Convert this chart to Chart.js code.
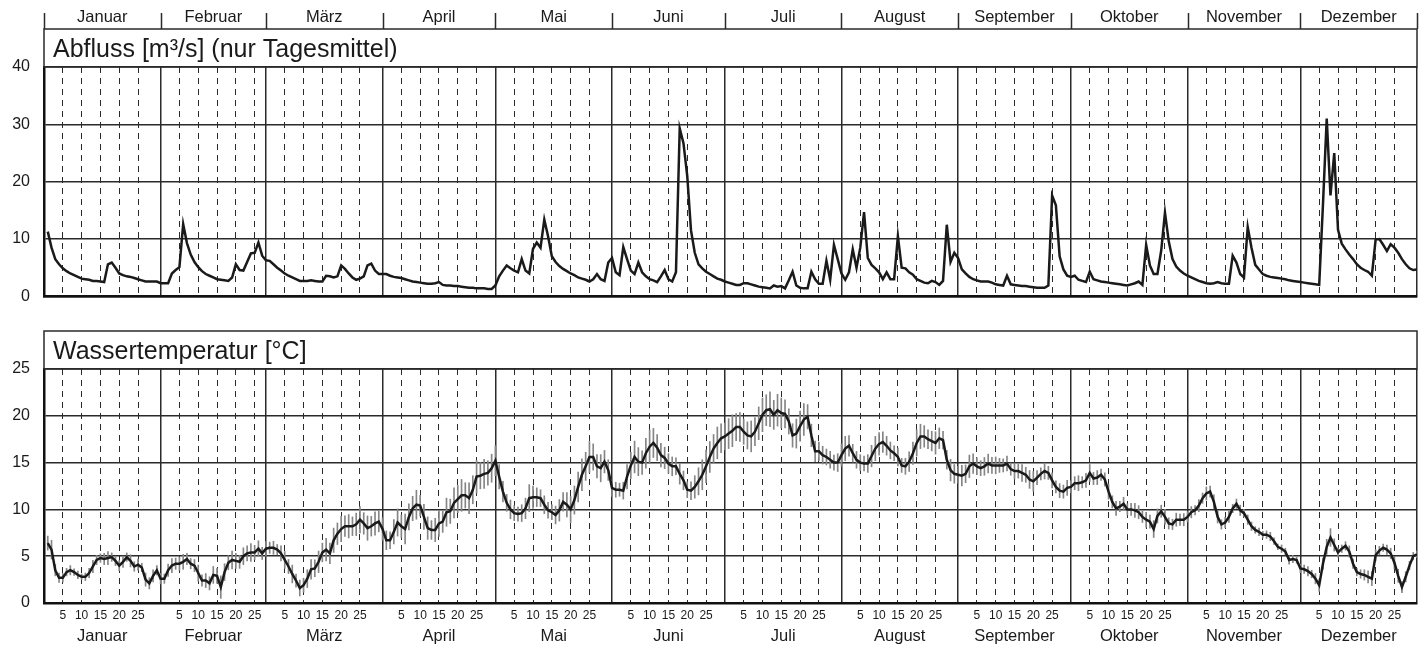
<!DOCTYPE html>
<html>
<head>
<meta charset="utf-8">
<script src="https://cdn.jsdelivr.net/npm/chart.js"></script>
<style>
body { margin: 0; background: #fff; width: 1427px; height: 651px; overflow: hidden; position: relative; }
canvas { position: absolute; left: 0; }
#abfluss { top: 0; }
#temperatur { top: 320px; }
</style>
</head>
<body>
<canvas id="abfluss" width="1427" height="320"></canvas>
<canvas id="temperatur" width="1427" height="331"></canvas>
<script>
const monate = ["Januar", "Februar", "März", "April", "Mai", "Juni", "Juli", "August", "September", "Oktober", "November", "Dezember"];
const monatsTage = [31, 28, 31, 30, 31, 30, 31, 31, 30, 31, 30, 31];
const tagMarken = [5, 10, 15, 20, 25];
const abflussTicks = [0, 10, 20, 30, 40];
const tempTicks = [0, 5, 10, 15, 20, 25];

// Abfluss, Tagesmittel m³/s
const abfluss = [
  11.3, 8.5, 6.5, 5.6, 4.9, 4.4, 4.0, 3.7, 3.4, 3.1, 3.0, 2.9, 2.7, 2.7, 2.6, 2.5, 5.6, 5.9, 5.0, 4.0, 3.7, 3.5, 3.4, 3.2, 3.0, 2.8, 2.6, 2.6, 2.6, 2.6, 2.3,
  2.3, 2.3, 4.0, 4.6, 5.1, 12.6, 9.3, 7.3, 6.0, 5.1, 4.4, 3.9, 3.6, 3.3, 3.0, 2.9, 2.8, 2.7, 3.3, 5.6, 4.6, 4.5, 6.0, 7.5, 7.6, 9.4, 7.1, 6.3,
  6.2, 5.6, 5.0, 4.5, 4.0, 3.6, 3.3, 3.0, 2.7, 2.7, 2.7, 2.8, 2.7, 2.6, 2.6, 3.6, 3.5, 3.3, 3.5, 5.4, 4.8, 4.0, 3.3, 2.9, 3.1, 3.5, 5.4, 5.7, 4.5, 3.9, 3.9,
  3.9, 3.6, 3.4, 3.3, 3.2, 3.0, 2.8, 2.6, 2.5, 2.4, 2.3, 2.2, 2.2, 2.3, 2.5, 2.0, 1.9, 1.9, 1.8, 1.8, 1.7, 1.6, 1.5, 1.5, 1.4, 1.4, 1.4, 1.3, 1.3, 1.9,
  3.5, 4.5, 5.4, 4.9, 4.5, 4.2, 6.5, 4.5, 4.0, 8.3, 9.4, 8.5, 13.4, 10.5, 7.0, 6.0, 5.3, 4.8, 4.4, 4.0, 3.7, 3.3, 3.1, 2.9, 2.6, 3.0, 3.9, 3.0, 2.7, 5.9, 6.7,
  4.2, 3.7, 8.6, 6.5, 4.5, 3.9, 5.9, 4.2, 3.5, 3.0, 2.8, 2.5, 3.5, 4.6, 3.0, 2.6, 4.2, 29.3, 26.7, 21.0, 11.5, 7.6, 5.6, 4.9, 4.3, 3.9, 3.5, 3.1, 2.9, 2.6,
  2.4, 2.2, 2.0, 2.0, 2.3, 2.3, 2.1, 1.9, 1.7, 1.6, 1.5, 1.4, 1.9, 1.7, 1.8, 1.4, 2.8, 4.3, 1.9, 1.5, 1.4, 1.4, 4.3, 3.0, 2.2, 2.2, 6.2, 2.9, 9.0, 6.5, 4.0,
  2.9, 4.2, 8.2, 5.0, 8.5, 14.7, 6.7, 5.5, 4.9, 4.2, 3.0, 4.2, 3.0, 3.0, 10.5, 5.0, 4.9, 4.2, 3.8, 3.0, 2.7, 2.4, 2.3, 2.7, 2.5, 2.0, 2.7, 12.5, 6.0, 7.6, 6.7,
  4.7, 4.0, 3.4, 3.0, 2.8, 2.6, 2.6, 2.6, 2.4, 2.1, 2.0, 1.9, 3.6, 2.1, 2.0, 1.9, 1.8, 1.8, 1.7, 1.6, 1.5, 1.5, 1.5, 1.9, 17.6, 15.9, 7.0, 4.7, 3.6, 3.4,
  3.6, 2.9, 2.7, 2.5, 4.3, 3.0, 2.8, 2.6, 2.5, 2.4, 2.3, 2.2, 2.1, 2.0, 1.9, 2.1, 2.3, 2.6, 2.0, 9.0, 5.4, 3.9, 3.9, 8.0, 14.6, 9.6, 6.5, 5.2, 4.5, 4.0, 3.6,
  3.3, 3.0, 2.7, 2.5, 2.3, 2.2, 2.3, 2.5, 2.3, 2.2, 2.2, 7.1, 5.9, 3.9, 3.3, 12.1, 8.5, 5.5, 4.7, 3.9, 3.6, 3.4, 3.3, 3.2, 3.1, 3.0, 2.8, 2.7, 2.6, 2.5,
  2.4, 2.3, 2.2, 2.1, 2.0, 16.0, 31.0, 17.6, 25.0, 11.6, 9.2, 8.2, 7.3, 6.5, 5.6, 5.0, 4.6, 4.3, 3.6, 9.9, 10.0, 9.0, 7.9, 9.1, 8.5, 7.6, 6.5, 5.6, 4.9, 4.6, 4.7
];

// Wassertemperatur, Tagesmittel °C
const tempMittel = [
  6.4, 5.7, 3.5, 2.7, 2.7, 3.3, 3.5, 3.3, 3.0, 2.8, 2.8, 3.2, 3.9, 4.6, 4.8, 4.7, 4.8, 4.9, 4.5, 4.0, 4.4, 4.9, 4.5, 3.9, 4.1, 3.8, 2.5, 2.1, 2.9, 3.5, 2.6,
  2.6, 3.5, 4.0, 4.2, 4.2, 4.4, 4.7, 4.2, 4.0, 3.2, 2.4, 2.4, 2.1, 3.0, 2.9, 1.7, 3.3, 4.3, 4.6, 4.5, 4.4, 5.0, 5.3, 5.4, 5.4, 5.8, 5.3, 5.8,
  5.9, 5.9, 5.7, 5.3, 4.6, 3.9, 3.1, 2.4, 1.6, 1.9, 2.6, 3.6, 3.7, 4.4, 5.4, 5.7, 5.3, 6.7, 7.4, 7.9, 8.2, 8.2, 8.2, 8.4, 8.9, 8.5, 8.0, 8.2, 8.5, 8.7, 7.9,
  6.7, 6.7, 7.6, 8.6, 8.2, 7.9, 9.2, 10.1, 10.5, 10.4, 9.2, 8.0, 7.8, 7.8, 8.5, 8.7, 9.7, 9.8, 10.7, 11.1, 11.5, 11.5, 11.2, 12.1, 13.5, 13.6, 13.8, 13.9, 14.4, 15.2,
  13.5, 11.9, 10.7, 10.0, 9.6, 9.5, 9.6, 10.1, 11.2, 11.3, 11.3, 11.2, 10.5, 9.9, 9.7, 9.4, 9.9, 10.8, 10.5, 10.0, 11.0, 12.4, 13.7, 14.6, 15.6, 15.6, 14.6, 14.4, 15.1, 14.2, 12.3,
  12.1, 12.1, 12.0, 13.5, 14.7, 15.6, 15.1, 15.0, 16.0, 16.7, 17.1, 16.6, 15.8, 15.5, 14.9, 14.6, 14.6, 13.8, 13.1, 12.1, 12.0, 12.4, 13.0, 13.7, 14.6, 15.6, 16.5, 17.1, 17.6, 17.8,
  18.1, 18.4, 18.8, 18.8, 18.3, 17.9, 17.8, 18.3, 19.2, 20.1, 20.6, 20.7, 20.1, 20.6, 20.3, 20.2, 19.4, 17.9, 18.1, 18.9, 19.6, 19.9, 17.9, 16.2, 16.2, 15.8, 15.6, 15.3, 15.0, 15.0, 15.8,
  16.5, 16.8, 16.0, 15.3, 15.0, 14.9, 14.9, 15.7, 16.5, 17.0, 17.2, 16.8, 16.3, 16.0, 15.6, 14.7, 14.6, 15.1, 16.0, 17.1, 17.8, 17.8, 17.5, 17.3, 17.1, 17.6, 17.4, 15.3, 14.2, 13.8, 13.7,
  13.6, 13.8, 14.6, 14.9, 14.6, 14.4, 14.6, 14.9, 14.7, 14.7, 14.7, 14.7, 14.9, 14.3, 14.1, 14.1, 13.9, 13.7, 13.2, 13.0, 13.4, 13.8, 14.1, 13.9, 13.1, 12.4, 12.0, 11.9, 12.3, 12.4,
  12.8, 12.8, 12.9, 13.1, 13.9, 13.3, 13.4, 13.7, 13.2, 11.9, 10.8, 10.1, 10.3, 10.6, 10.0, 10.0, 9.9, 9.7, 9.2, 8.9, 8.7, 7.9, 9.3, 9.8, 9.2, 8.5, 8.4, 8.9, 8.9, 8.9, 9.2,
  9.7, 9.9, 10.4, 11.2, 11.7, 11.9, 10.8, 9.2, 8.4, 8.6, 9.2, 10.1, 10.6, 9.9, 9.6, 8.9, 8.2, 7.8, 7.6, 7.3, 7.3, 7.1, 6.6, 6.0, 5.8, 5.5, 4.6, 4.7, 4.6, 3.7,
  3.6, 3.4, 3.1, 2.6, 1.9, 4.2, 6.0, 7.0, 6.2, 5.4, 5.8, 6.1, 5.5, 4.2, 3.3, 3.1, 3.0, 2.8, 2.6, 5.1, 5.6, 5.9, 5.7, 5.3, 4.3, 2.9, 1.7, 2.8, 4.0, 5.0, 5.2
];

// Tagesspanne (max - min) °C
const tempSpanne = [
  1.5, 2.0, 1.2, 1.0, 0.9, 0.8, 1.0, 0.7, 0.8, 0.6, 0.8, 1.0, 1.3, 1.0, 0.9, 1.2, 1.4, 0.9, 1.0, 1.1, 1.2, 0.9, 1.3, 1.0, 1.2, 0.9, 1.4, 1.2, 1.3, 1.0, 1.1,
  1.0, 1.3, 1.5, 1.2, 1.4, 1.6, 1.2, 1.1, 1.3, 1.7, 1.2, 1.5, 1.4, 1.8, 1.6, 2.4, 1.8, 1.5, 1.9, 1.6, 1.4, 1.8, 1.6, 1.9, 1.5, 1.7, 1.3, 1.6,
  1.2, 1.4, 1.1, 1.6, 1.8, 1.5, 1.9, 1.4, 1.7, 1.5, 1.9, 2.1, 1.8, 2.3, 2.0, 2.4, 2.2, 2.6, 2.3, 2.7, 2.2, 2.5, 2.0, 2.4, 2.8, 2.3, 2.6, 2.1, 2.5, 2.2, 2.4,
  2.0, 1.8, 2.6, 2.9, 2.4, 3.2, 2.8, 2.6, 3.1, 2.2, 2.7, 2.4, 2.0, 2.5, 2.8, 2.3, 3.0, 2.6, 3.2, 2.9, 3.4, 2.7, 3.3, 3.0, 3.5, 2.8, 3.1, 2.6, 3.0, 3.2,
  2.6, 2.2, 1.8, 2.0, 1.6, 1.5, 1.8, 2.2, 2.9, 2.4, 2.0, 1.8, 1.9, 1.7, 1.6, 1.9, 2.3, 2.0, 2.6, 2.8, 3.0, 3.2, 3.4, 3.0, 3.3, 2.8, 2.5, 2.9, 2.4, 2.2, 1.8,
  1.6, 1.4, 1.8, 2.6, 2.8, 3.4, 3.0, 2.5, 3.2, 3.6, 3.1, 2.8, 2.5, 2.3, 2.1, 2.0, 1.8, 2.2, 2.0, 1.7, 1.9, 2.4, 2.9, 3.2, 3.5, 3.3, 3.0, 3.4, 3.1, 2.9,
  3.2, 3.4, 2.9, 3.1, 2.7, 2.9, 3.3, 3.0, 3.5, 3.6, 3.3, 3.7, 3.1, 3.4, 3.2, 3.0, 2.7, 2.5, 3.1, 3.2, 3.4, 2.6, 2.4, 2.2, 2.0, 1.9, 1.7, 1.8, 1.6, 1.9, 2.4,
  2.6, 2.2, 1.9, 1.8, 1.7, 1.6, 1.9, 2.3, 2.6, 2.4, 2.2, 2.0, 1.8, 1.6, 1.9, 1.5, 1.7, 2.1, 2.4, 2.8, 2.6, 2.3, 2.0, 2.1, 2.4, 2.2, 1.9, 2.0, 2.3, 2.0, 1.8,
  2.2, 1.9, 2.4, 2.1, 1.8, 1.6, 1.9, 2.0, 1.7, 1.8, 1.5, 1.4, 1.6, 1.3, 1.7, 1.5, 1.8, 1.6, 1.9, 2.1, 1.5, 1.3, 1.7, 1.4, 1.6, 1.3, 1.5, 1.4, 1.6, 1.3,
  1.4, 1.6, 1.2, 1.5, 1.8, 1.3, 1.5, 1.2, 1.4, 1.6, 1.3, 1.5, 1.1, 1.4, 1.2, 1.3, 1.5, 1.4, 1.2, 1.6, 1.4, 1.8, 1.5, 1.3, 1.6, 1.2, 1.1, 1.4, 1.2, 1.3, 1.1,
  1.2, 1.0, 1.3, 1.1, 1.4, 1.2, 1.5, 1.3, 1.0, 1.1, 1.2, 0.9, 1.0, 1.1, 0.8, 1.0, 0.9, 0.7, 0.8, 0.7, 0.8, 0.9, 0.7, 0.6, 0.8, 0.7, 0.9, 0.8, 0.7, 0.9,
  0.9, 1.0, 0.8, 1.1, 1.3, 1.2, 1.6, 1.9, 1.3, 1.0, 0.8, 0.9, 1.2, 1.0, 0.8, 0.9, 1.1, 1.3, 1.5, 1.2, 0.9, 0.8, 1.0, 1.1, 1.3, 1.4, 1.2, 1.1, 0.9, 0.8, 0.7
];

const schrift = '"Liberation Sans", Arial, sans-serif';

// Monatsgrenzen (Tag des Jahres)
const grenzen = [0];
monatsTage.forEach(t => grenzen.push(grenzen[grenzen.length - 1] + t));
const xWerte = [];
grenzen.forEach((g, i) => {
  xWerte.push(g);
  if (i < 12) tagMarken.forEach(t => xWerte.push(g + t));
});
const istGrenze = v => grenzen.includes(v);
const tagImMonat = v => {
  let g = 0;
  grenzen.forEach(b => { if (b <= v) g = b; });
  return v - g;
};

const rahmen = {
  id: 'rahmen',
  afterDraw(chart, args, opts) {
    const { ctx, chartArea: a, scales: { x } } = chart;
    ctx.save();
    // Titelkasten
    ctx.strokeStyle = '#2a2a2a';
    ctx.lineWidth = 1.5;
    ctx.strokeRect(a.left, a.top - 38, a.right - a.left, 38);
    ctx.fillStyle = '#1a1a1a';
    ctx.font = '25px ' + schrift;
    ctx.textAlign = 'left';
    ctx.textBaseline = 'alphabetic';
    ctx.fillText(opts.titel, a.left + 9, a.top - 10.5);

    // Monatsnamen
    ctx.font = '16.5px ' + schrift;
    ctx.textAlign = 'center';
    monate.forEach((m, i) => {
      const mitte = x.getPixelForValue((grenzen[i] + grenzen[i + 1]) / 2);
      ctx.fillText(m, mitte, opts.monatY);
    });
    if (opts.oben) {
      ctx.lineWidth = 1.5;
      ctx.beginPath();
      grenzen.forEach(g => {
        const px = Math.round(x.getPixelForValue(g)) + 0.5;
        ctx.moveTo(px, 13);
        ctx.lineTo(px, a.top - 38);
      });
      ctx.stroke();
    }
    ctx.restore();
  }
};

function xAchse(hoehe, beschriftet) {
  return {
    type: 'linear',
    min: 0,
    max: 365,
    offset: false,
    afterBuildTicks: s => { s.ticks = xWerte.map(v => ({ value: v })); },
    afterFit: s => { s.height = hoehe; },
    ticks: {
      display: beschriftet,
      autoSkip: false,
      maxRotation: 0,
      padding: 5,
      color: '#1a1a1a',
      font: { family: schrift, size: 12 },
      callback: v => istGrenze(v) ? '' : String(tagImMonat(v))
    },
    grid: {
      offset: false,
      drawTicks: false,
      color: '#2a2a2a',
      lineWidth: c => (c.tick && istGrenze(c.tick.value)) ? 1.5 : 1
    },
    border: {
      color: '#111',
      width: 2.5,
      dash: c => (c.tick && !istGrenze(c.tick.value)) ? [6, 5] : []
    }
  };
}

function yAchse(max, werte) {
  return {
    min: 0,
    max: max,
    afterBuildTicks: s => { s.ticks = werte.map(v => ({ value: v })); },
    afterFit: s => { s.width = 44; },
    ticks: { padding: 14, color: '#1a1a1a', font: { family: schrift, size: 16 } },
    grid: { drawTicks: false, color: '#2a2a2a', lineWidth: 1.5 },
    border: { color: '#111', width: 2.5 }
  };
}

new Chart(document.getElementById('abfluss'), {
  type: 'line',
  data: {
    datasets: [{
      data: abfluss.map((v, i) => ({ x: i + 1, y: v })),
      borderColor: '#1a1a1a',
      borderWidth: 2.5,
      pointRadius: 0,
      tension: 0
    }]
  },
  options: {
    responsive: false,
    animation: false,
    devicePixelRatio: 1,
    events: [],
    layout: { padding: { top: 67, right: 10, bottom: 0, left: 0 } },
    scales: { x: xAchse(19, false), y: yAchse(40, abflussTicks) },
    plugins: {
      legend: { display: false },
      tooltip: { enabled: false },
      rahmen: { titel: 'Abfluss [m³/s] (nur Tagesmittel)', monatY: 22, oben: true }
    }
  },
  plugins: [rahmen]
});

new Chart(document.getElementById('temperatur'), {
  type: 'line',
  data: {
    datasets: [
      {
        data: tempMittel.map((v, i) => ({ x: i + 1, y: v })),
        borderColor: '#1a1a1a',
        borderWidth: 2.5,
        pointRadius: 0,
        tension: 0,
        order: 0
      },
      {
        type: 'bar',
        data: tempMittel.map((v, i) => ({ x: i + 1, y: [v - tempSpanne[i] / 2, v + tempSpanne[i] / 2] })),
        backgroundColor: '#858585',
        borderWidth: 0,
        barThickness: 1,
        grouped: false,
        order: 1
      }
    ]
  },
  options: {
    responsive: false,
    animation: false,
    devicePixelRatio: 1,
    events: [],
    layout: { padding: { top: 49, right: 10, bottom: 0, left: 0 } },
    scales: { x: xAchse(48, true), y: yAchse(25, tempTicks) },
    plugins: {
      legend: { display: false },
      tooltip: { enabled: false },
      rahmen: { titel: 'Wassertemperatur [°C]', monatY: 321, oben: false }
    }
  },
  plugins: [rahmen]
});
</script>
</body>
</html>
